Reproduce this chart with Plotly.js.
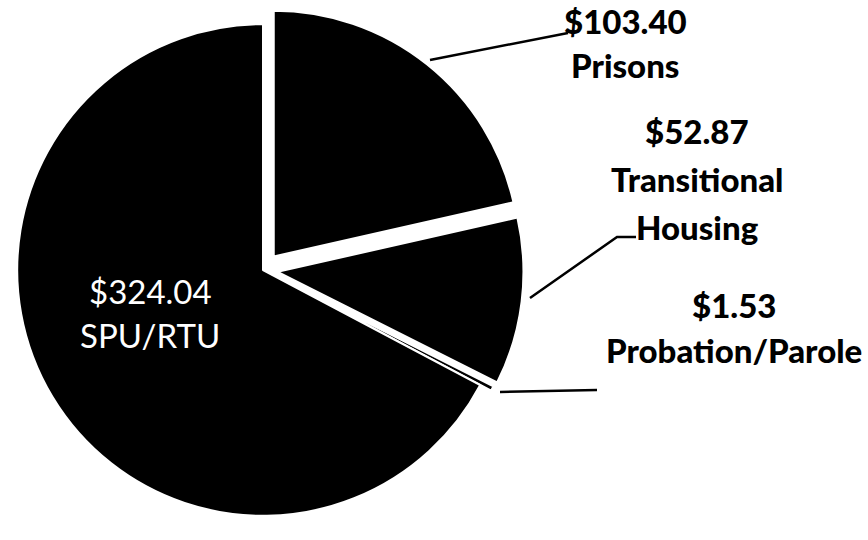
<!DOCTYPE html>
<html>
<head>
<meta charset="utf-8">
<script src="https://cdn.plot.ly/plotly-3.0.1.min.js"></script>
<style>html,body{margin:0;padding:0;background:#fff}#chart{width:868px;height:540px}</style>
</head>
<body>
<div id="chart"></div>
<script>
var categories = ["Prisons", "Transitional Housing", "Probation/Parole", "SPU/RTU"];
var values = [103.40, 52.87, 1.53, 324.04];
var valueLabels = ["$103.40", "$52.87", "$1.53", "$324.04"];
var nameLines = [["Prisons"], ["Transitional", "Housing"], ["Probation/Parole"], ["SPU/RTU"]];
var pulls = [0.07, 0.06, 0.05, 0];

var W = 868, H = 540;
function px(x) { return x / W; }
function py(y) { return 1 - y / H; }

// label anchor centres (pixels) for each category's text block
var labelPos = [
  {x: 625, y: 21, dy: 44, color: "#000", weight: 900, size: 33},
  {x: 697, y: 131, dy: 48, color: "#000", weight: 900, size: 33},
  {x: 734, y: 305, dy: 45, color: "#000", weight: 900, size: 33},
  {x: 150, y: 291, dy: 44, color: "#fff", weight: 400, size: 33}
];

var annotations = [];
categories.forEach(function (c, i) {
  var lp = labelPos[i];
  var lines = [valueLabels[i]].concat(nameLines[i]);
  lines.forEach(function (t, j) {
    annotations.push({
      text: t,
      x: px(lp.x), y: py(lp.y + j * lp.dy),
      xref: "paper", yref: "paper",
      xanchor: "center", yanchor: "middle",
      showarrow: false,
      font: {family: "Lato, 'Open Sans', sans-serif", size: lp.size, color: lp.color, weight: lp.weight}
    });
  });
});

var leaderPaths = [
  [[430, 60], [568, 33]],
  [[530, 298], [617, 237], [636, 237]],
  [[500, 392], [597, 390]]
];
var shapes = leaderPaths.map(function (pts) {
  var d = pts.map(function (p, k) { return (k ? "L" : "M") + px(p[0]) + "," + py(p[1]); }).join(" ");
  return {type: "path", xref: "paper", yref: "paper", path: d, line: {color: "#000", width: 2.5}};
});

var trace = {
  type: "pie",
  labels: categories,
  values: values,
  sort: false,
  direction: "clockwise",
  rotation: 0,
  pull: pulls,
  textinfo: "none",
  hoverinfo: "label+value",
  marker: {colors: ["#000", "#000", "#000", "#000"], line: {color: "#fff", width: 2}},
  domain: {x: [0, 0.606], y: [0, 1]},
  showlegend: false
};

var layout = {
  width: W, height: H,
  margin: {l: 0, r: 0, t: 0, b: 0},
  paper_bgcolor: "#fff",
  showlegend: false,
  annotations: annotations,
  shapes: shapes
};

Plotly.newPlot("chart", [trace], layout, {displayModeBar: false, staticPlot: true});
</script>
</body>
</html>
